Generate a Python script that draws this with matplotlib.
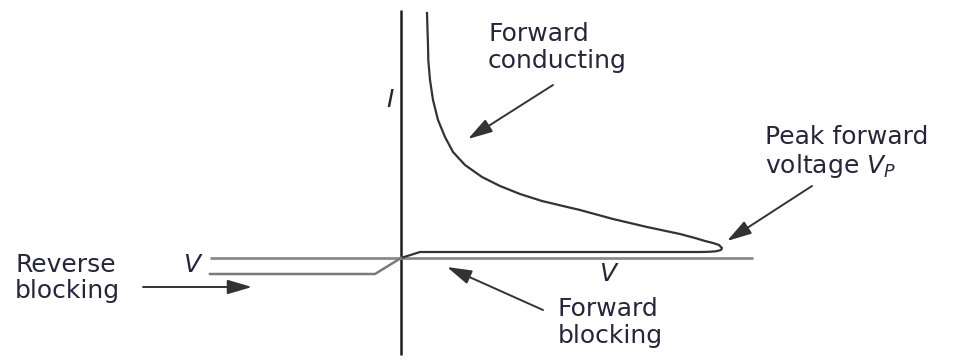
import numpy as np
import matplotlib.pyplot as plt

plt.rcParams['font.family'] = ['DejaVu Sans']
plt.rcParams['mathtext.fontset'] = 'dejavusans'

# I-V characteristic (arbitrary units)
v_fwd = [26, 26.5, 27, 27.3, 29, 32, 37, 44, 52, 64, 81, 99, 119, 141,
         162, 179, 212, 246, 279, 294, 304, 312, 318, 321, 320, 315, 308,
         299, 19, 0]
i_fwd = [245, 228, 213, 198, 178, 158, 138, 121, 106, 93, 81, 72, 64, 57,
         52, 48, 39, 31, 24, 20, 17, 15, 13, 10, 8, 6.7, 6.2, 6, 6, 0]
v_rev = [0, -26, -191]
i_rev = [0, -16, -16]

# axes extents
v_axis = [-191, 352]
i_axis = [-97, 248]

txt_col = '#26263a'
line_col = '#333333'
fs = 18

fig = plt.figure(figsize=(9.61, 3.6), dpi=100)
ax = fig.add_axes([0, 0, 1, 1])
ax.set_xlim(-401, 560)
ax.set_ylim(-102, 258)
ax.axis('off')

# axes lines
ax.plot([0, 0], i_axis, color='#1e1e1e', lw=1.8, solid_capstyle='butt')
ax.plot(v_axis, [0, 0], color='#8a8a8a', lw=2.0, solid_capstyle='butt')

# curve
ax.plot(v_fwd, i_fwd, color=line_col, lw=1.6, solid_joinstyle='round')
ax.plot(v_rev, i_rev, color='#7a7a7a', lw=1.8, solid_joinstyle='round')

# labels
ax.text(87, 236, "Forward\nconducting", ha='left', va='top', fontsize=fs,
        color=txt_col, linespacing=1.15)
ax.text(364, 133, "Peak forward\nvoltage $V_P$", ha='left', va='top', fontsize=fs,
        color=txt_col, linespacing=1.15)
ax.text(-386, 5, "Reverse\nblocking", ha='left', va='top', fontsize=fs,
        color=txt_col, linespacing=1.1)
ax.text(157, -39, "Forward\nblocking", ha='left', va='top', fontsize=fs,
        color=txt_col, linespacing=1.15)
ax.text(-209, -7, "V", ha='center', va='center', fontsize=fs, style='italic',
        color=txt_col)
ax.text(207, -16, "V", ha='center', va='center', fontsize=fs, style='italic',
        color=txt_col)
ax.text(-11, 158, "I", ha='center', va='center', fontsize=fs, style='italic',
        color=txt_col)

# arrows
arrows = [((152, 173), (67, 119)),
          ((411, 72), (326, 17)),
          ((142, -52), (46, -9)),
          ((-258, -29), (-149, -29))]
for start, end in arrows:
    ax.annotate("", xy=end, xytext=start,
                arrowprops=dict(arrowstyle='-|>,head_length=0.75,head_width=0.22',
                                mutation_scale=20, color=line_col, lw=1.4,
                                shrinkA=0, shrinkB=0))

fig.savefig('out.png', dpi=100)
